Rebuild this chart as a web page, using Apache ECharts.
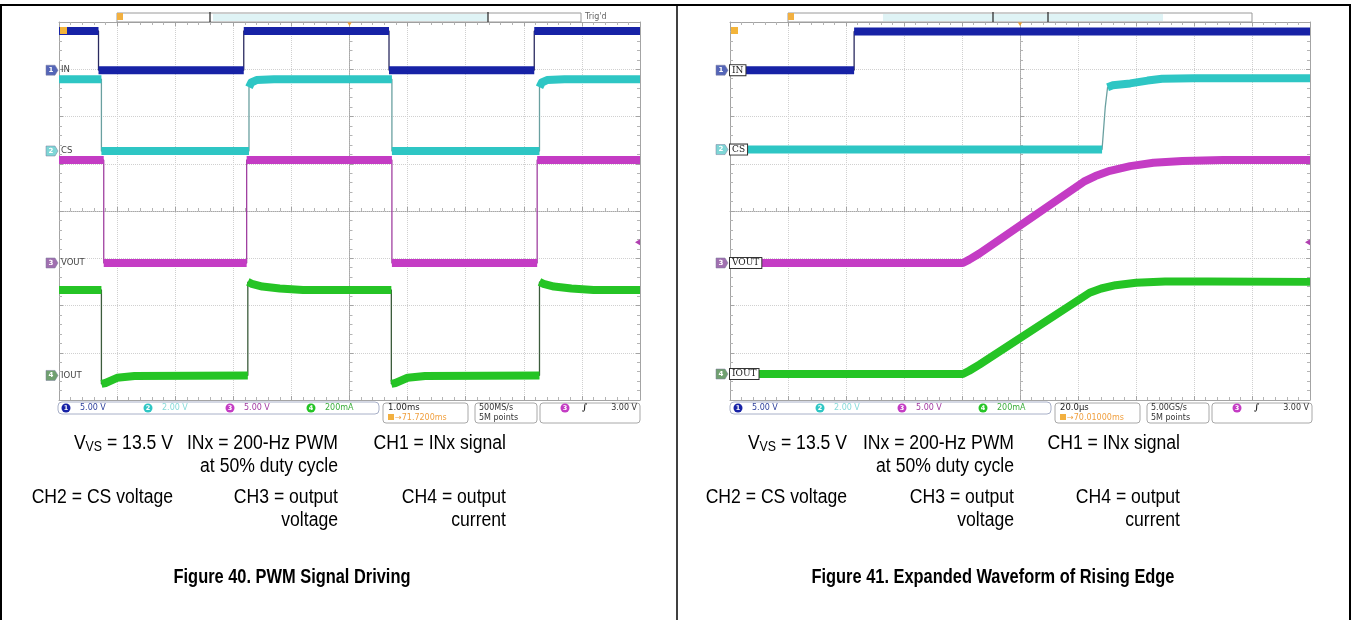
<!DOCTYPE html>
<html><head><meta charset="utf-8">
<script src="https://cdn.jsdelivr.net/npm/echarts/dist/echarts.min.js"></script>
<style>html,body{margin:0;padding:0;background:#fff}#c{width:1351px;height:620px}</style>
</head><body><div id="c"></div>
<script>
// ---------- DATA (time, divisions) ----------
// Figure 40: time in ms (1 ms/div), vertical in divisions
const fig40In   = [[-5,3.81],[-4.32,3.81],[-4.32,2.98],[-1.82,2.98],[-1.82,3.81],[0.68,3.81],[0.68,2.98],[3.18,2.98],[3.18,3.81],[5,3.81]];
const fig40Cs   = [[-5,2.79],[-4.27,2.79],[-4.27,1.27],[-1.73,1.27],[-1.73,2.62],[-1.69,2.72],[-1.6,2.77],[-1.3,2.79],[0.73,2.79],[0.73,1.27],[3.27,1.27],[3.27,2.62],[3.31,2.72],[3.4,2.77],[3.7,2.79],[5,2.79]];
const fig40Vout = [[-5,1.08],[-4.23,1.08],[-4.23,-1.10],[-1.77,-1.10],[-1.77,1.08],[0.73,1.08],[0.73,-1.10],[3.23,-1.10],[3.23,1.08],[5,1.08]];
const fig40Iout = [[-5,-1.67],[-4.27,-1.67],[-4.27,-3.66],[-4.2,-3.64],[-4.0,-3.53],[-3.7,-3.49],[-1.75,-3.48],[-1.75,-1.50],[-1.68,-1.54],[-1.5,-1.60],[-1.2,-1.64],[-0.8,-1.67],[0.72,-1.67],[0.72,-3.66],[0.79,-3.64],[1.0,-3.53],[1.3,-3.49],[3.27,-3.48],[3.27,-1.50],[3.34,-1.54],[3.52,-1.60],[3.82,-1.64],[4.2,-1.67],[5,-1.67]];
// Figure 41: time in us (20 us/div)
const fig41In   = [[-100,2.98],[-57.2,2.98],[-57.2,3.80],[100,3.80]];
const fig41Cs   = [[-100,1.30],[28.3,1.30],[29.4,2.2],[30.2,2.62],[32,2.66],[38,2.70],[44,2.76],[49,2.80],[60,2.81],[100,2.81]];
const fig41Vout = [[-100,-1.10],[-19.7,-1.10],[-17.5,-1.03],[-14,-0.90],[22,0.62],[26,0.74],[31,0.85],[38,0.95],[46,1.02],[56,1.06],[70,1.08],[100,1.08]];
const fig41Iout = [[-100,-3.45],[-19.7,-3.45],[-17.5,-3.38],[-14,-3.25],[24,-1.73],[28,-1.64],[33,-1.57],[40,-1.52],[50,-1.49],[65,-1.49],[100,-1.50]];
// channel ground markers (divisions)
const fig40Ground = [2.98, 1.27, -1.10, -3.48];
const fig41Ground = [2.98, 1.30, -1.10, -3.45];
const trigLevel = -0.66;
// labels
const channelNames  = ['IN','CS','VOUT','IOUT'];
const channelScales = ['5.00 V','2.00 V','5.00 V','200mA'];
const timebases  = ['1.00ms','20.0\u00b5s'];
const delays     = ['\u219271.7200ms','\u219270.01000ms'];
const sampleRates= ['500MS/s','5.00GS/s'];
const recordLen  = '5M points';
const trigText   = '3.00 V';
const xRanges = [{min:-5,max:5,interval:1},{min:-100,max:100,interval:20}];
const yRange  = {min:-4,max:4,interval:1};

// ---------- STYLE ----------
const colors     = ['#1722a6','#2ec6c4','#c43cc4','#25c425'];
const edgeColors = ['#2a2a60','#6aa0a0','#a040a0','#3c5c3c'];
const tagColors  = ['#5566b8','#7fd6d6','#a070b0','#70a070'];
const textColors = ['#2c3f9c','#86dada','#a23aa2','#3cae3c'];
const gridBoxes  = [{left:59,top:22,width:581,height:378},{left:730,top:22,width:580,height:378}];

const chart = echarts.init(document.getElementById('c'), null, {renderer:'canvas', width:1351, height:620});

const xAxes = [], yAxes = [];
const edgeLine = {color:'#a4a4a4', width:1};
const minorT = {show:true, splitNumber:5, length:3, lineStyle:{color:'#b4b4b4', width:1}};
function addAxes(g, xr) {
  const base = {gridIndex:g, type:'value', axisLabel:{show:false}, silent:true};
  xAxes.push(Object.assign({}, base, xr, {position:'bottom', axisLine:{show:true,onZero:false,lineStyle:edgeLine}, axisTick:{show:true,inside:true,length:4,lineStyle:edgeLine}, minorTick:minorT, splitLine:{show:true,lineStyle:{color:'#d0d0d0',type:'dotted'}}}));
  xAxes.push(Object.assign({}, base, xr, {position:'top', axisLine:{show:true,onZero:false,lineStyle:edgeLine}, axisTick:{show:true,inside:true,length:4,lineStyle:edgeLine}, minorTick:minorT, splitLine:{show:false}}));
  xAxes.push(Object.assign({}, base, xr, {position:'bottom', axisLine:{show:true,onZero:true,lineStyle:{color:'#a8a8a8',type:'dotted'}}, axisTick:{show:true,inside:true,length:4,lineStyle:edgeLine}, minorTick:minorT, splitLine:{show:false}}));
  yAxes.push(Object.assign({}, base, yRange, {position:'left', axisLine:{show:true,onZero:false,lineStyle:edgeLine}, axisTick:{show:true,inside:true,length:4,lineStyle:edgeLine}, minorTick:minorT, splitLine:{show:true,lineStyle:{color:'#d0d0d0',type:'dotted'}}}));
  yAxes.push(Object.assign({}, base, yRange, {position:'right', axisLine:{show:true,onZero:false,lineStyle:edgeLine}, axisTick:{show:true,inside:true,length:4,lineStyle:edgeLine}, minorTick:minorT, splitLine:{show:false}}));
  yAxes.push(Object.assign({}, base, yRange, {position:'left', axisLine:{show:true,onZero:true,lineStyle:{color:'#a8a8a8',type:'dotted'}}, axisTick:{show:true,inside:true,length:4,lineStyle:edgeLine}, minorTick:minorT, splitLine:{show:false}}));
}
addAxes(0, xRanges[0]);
addAxes(1, xRanges[1]);

// break thick band at near-vertical edges (edges are drawn thin)
function bandData(pts, xPx, yPx) {
  const out = [];
  for (let i = 0; i < pts.length; i++) {
    if (i > 0) {
      const dx = Math.abs(pts[i][0]-pts[i-1][0]) * xPx;
      const dy = Math.abs(pts[i][1]-pts[i-1][1]) * yPx;
      if (dy > 4 * Math.max(dx, 0.001) && dy > 6) out.push([pts[i][0], '-']);
    }
    out.push(pts[i]);
  }
  return out;
}
const figData = [[fig40In,fig40Cs,fig40Vout,fig40Iout],[fig41In,fig41Cs,fig41Vout,fig41Iout]];
const series = [];
const bandIndex = [[],[]];
figData.forEach((chs, g) => {
  const xPx = gridBoxes[g].width / (xRanges[g].max - xRanges[g].min);
  const yPx = gridBoxes[g].height / (yRange.max - yRange.min);
  chs.forEach((pts, ci) => {
    series.push({type:'line', xAxisIndex:g*3, yAxisIndex:g*3, data:pts, showSymbol:false, silent:true, animation:false, z:2,
      lineStyle:{color:edgeColors[ci], width:1.3}});
    bandIndex[g].push(series.length);
    series.push({type:'line', xAxisIndex:g*3, yAxisIndex:g*3, data:bandData(pts,xPx,yPx), connectNulls:false, showSymbol:false, silent:true, animation:false, z:3,
      lineStyle:{color:colors[ci], width:8, cap:'butt', join:'round'}});
  });
});

chart.setOption({
  animation:false,
  grid: gridBoxes.map(b => Object.assign({}, b, {show:false})),
  xAxis: xAxes, yAxis: yAxes, series: series
});

// ---------- annotation graphics positioned through the axes ----------
const G = [];
function P(g, x, y) { return chart.convertToPixel({seriesIndex: bandIndex[g][0]}, [x, y]); }
const bodyFont = 'Liberation Sans, Arial, sans-serif';
function T(x, y, text, o) {
  o = o || {};
  G.push({type:'text', x:x, y:y, z:20, scaleX:o.sx||1, style:Object.assign({text:text, fill:o.fill||'#000', fontSize:o.fs||9, fontFamily:o.ff||'DejaVu Sans, sans-serif', fontWeight:o.fw||'normal', align:o.align||'left', verticalAlign:'middle'}, o.extra||{})});
}
// figure frame
G.push({type:'line', z:30, shape:{x1:0,y1:5,x2:1351,y2:5}, style:{stroke:'#000', lineWidth:2}});
G.push({type:'line', z:30, shape:{x1:1,y1:5,x2:1,y2:620}, style:{stroke:'#000', lineWidth:2}});
G.push({type:'line', z:30, shape:{x1:677,y1:5,x2:677,y2:620}, style:{stroke:'#000', lineWidth:1.5}});
G.push({type:'line', z:30, shape:{x1:1350,y1:5,x2:1350,y2:620}, style:{stroke:'#000', lineWidth:2}});

[0,1].forEach(g => {
  const b = gridBoxes[g];
  const L = b.left, R = b.left + b.width, B = b.top + b.height;
  const ground = g === 0 ? fig40Ground : fig41Ground;
  // channel tags
  ground.forEach((v, ci) => {
    const p = P(g, xRanges[g].min, v);
    const tip = g === 0 ? L - 1 : L - 2;
    const cy = p[1];
    G.push({type:'polygon', z:12, shape:{points:[[tip-12,cy-5],[tip-3,cy-5],[tip,cy],[tip-3,cy+5],[tip-12,cy+5]]}, style:{fill:tagColors[ci], stroke:'#7a7a9a', lineWidth:0.5}});
    T(tip-7, cy, String(ci+1), {fill:'#fff', fs:7, fw:'bold', align:'center'});
    if (g === 0) {
      T(tip+3, cy, channelNames[ci], {fill:'#444', fs:8.5});
    } else {
      T(tip+2, cy, channelNames[ci], {fill:'#222', fs:9, ff:'DejaVu Serif, serif', extra:{backgroundColor:'#fff', borderColor:'#333', borderWidth:1, padding:[1,2,0,2]}});
    }
  });
  // trigger level marker on right edge
  const tl = P(g, xRanges[g].max, trigLevel);
  G.push({type:'polygon', z:12, shape:{points:[[R-5,tl[1]],[R,tl[1]-3],[R,tl[1]+3]]}, style:{fill:'#b040b0'}});
  // trigger position markers
  const tc = P(g, 0, yRange.max);
  G.push({type:'polygon', z:12, shape:{points:[[tc[0]-3,b.top-1],[tc[0]+3,b.top-1],[tc[0],b.top+4]]}, style:{fill:'#f0a030'}});
  G.push({type:'rect', z:12, shape:{x:L+1,y:b.top+5,width:7,height:7}, style:{fill:'#f3b43a'}});
  // record bar on top
  G.push({type:'rect', z:12, shape:{x:L+58,y:13,width:464,height:9}, style:{fill:'#fff', stroke:'#9a9a9a', lineWidth:1}});
  const cyanFrom = g === 0 ? 154 : 153, cyanTo = g === 0 ? 429 : 433;
  G.push({type:'rect', z:13, shape:{x:L+cyanFrom,y:14,width:cyanTo-cyanFrom,height:7}, style:{fill:'#dff3f5'}});
  G.push({type:'rect', z:14, shape:{x:L+58,y:13,width:6,height:7}, style:{fill:'#f2b040'}});
  const ticks = g === 0 ? [151,429] : [263,318];
  ticks.forEach(t => G.push({type:'line', z:14, shape:{x1:L+t,y1:12,x2:L+t,y2:22}, style:{stroke:'#222', lineWidth:1.2}}));
  if (g === 0) T(R-55, 17, "Trig'd", {fill:'#666', fs:8});
  // bottom info bar
  const o = g === 0 ? 0 : 1;
  G.push({type:'rect', z:12, shape:{x:L-1+o,y:B+2,width:321,height:12,r:4}, style:{fill:'#fff', stroke:'#a8b0c8', lineWidth:1}});
  [7,89,171,252].forEach((cx, ci) => {
    G.push({type:'circle', z:13, shape:{cx:L+cx+o, cy:B+8, r:4.5}, style:{fill:colors[ci]}});
    T(L+cx+o, B+8, String(ci+1), {fill:'#fff', fs:6.5, fw:'bold', align:'center'});
    T(L+cx+o+14, B+8, channelScales[ci], {fill:textColors[ci], fs:8});
  });
  G.push({type:'rect', z:12, shape:{x:L+324+o,y:B+3,width:85,height:20,r:3}, style:{fill:'#fff', stroke:'#a8a8a8', lineWidth:1}});
  T(L+329+o, B+8, timebases[g], {fill:'#222', fs:8.5});
  G.push({type:'rect', z:13, shape:{x:L+329+o,y:B+14,width:6,height:6}, style:{fill:'#f2b040'}});
  T(L+336+o, B+17.5, delays[g], {fill:'#f0a040', fs:8});
  G.push({type:'rect', z:12, shape:{x:L+416+o,y:B+3,width:62,height:20,r:3}, style:{fill:'#fff', stroke:'#a8a8a8', lineWidth:1}});
  T(L+420+o, B+8, sampleRates[g], {fill:'#333', fs:8});
  T(L+420+o, B+17.5, recordLen, {fill:'#333', fs:8});
  G.push({type:'rect', z:12, shape:{x:L+481+o,y:B+3,width:100,height:20,r:3}, style:{fill:'#fff', stroke:'#a8a8a8', lineWidth:1}});
  G.push({type:'circle', z:13, shape:{cx:L+506+o, cy:B+8, r:4.5}, style:{fill:colors[2]}});
  T(L+506+o, B+8, '3', {fill:'#fff', fs:6.5, fw:'bold', align:'center'});
  T(L+523+o, B+8, '\u222b', {fill:'#222', fs:9, ff:'DejaVu Serif, serif', fw:'bold'});
  T(L+578+o, B+8, trigText, {fill:'#333', fs:8, align:'right'});
});

// ---------- captions ----------
const capFS = 20, capSX = 0.88;
function cap(x, y, text, align) { T(x, y, text, {fs:capFS, ff:bodyFont, sx:capSX, align:align||'right'}); }
function capSub(x, y) {
  G.push({type:'text', x:x, y:y, z:20, scaleX:capSX, style:{text:'{a|V}{b|VS}{a| = 13.5 V}', fill:'#000', fontFamily:bodyFont, fontSize:capFS, align:'right', verticalAlign:'middle',
    rich:{a:{fontSize:capFS, fontFamily:bodyFont, fill:'#000'}, b:{fontSize:14, fontFamily:bodyFont, fill:'#000', padding:[9,0,0,0]}}}});
}
const cols = [[173,338,506],[847,1014,1180]];
const titles = ['Figure 40. PWM Signal Driving','Figure 41. Expanded Waveform of Rising Edge'];
const titleX = [292, 993];
[0,1].forEach(g => {
  const c = cols[g];
  capSub(c[0], 443);
  cap(c[1], 443, 'INx = 200-Hz PWM');
  cap(c[2], 443, 'CH1 = INx signal');
  cap(c[1], 466, 'at 50% duty cycle');
  cap(c[0], 497, 'CH2 = CS voltage');
  cap(c[1], 497, 'CH3 = output');
  cap(c[2], 497, 'CH4 = output');
  cap(c[1], 520, 'voltage');
  cap(c[2], 520, 'current');
  T(titleX[g], 577, titles[g], {fs:20, ff:bodyFont, fw:'bold', sx:0.82, align:'center'});
});

chart.setOption({graphic: G});
</script>
</body></html>
